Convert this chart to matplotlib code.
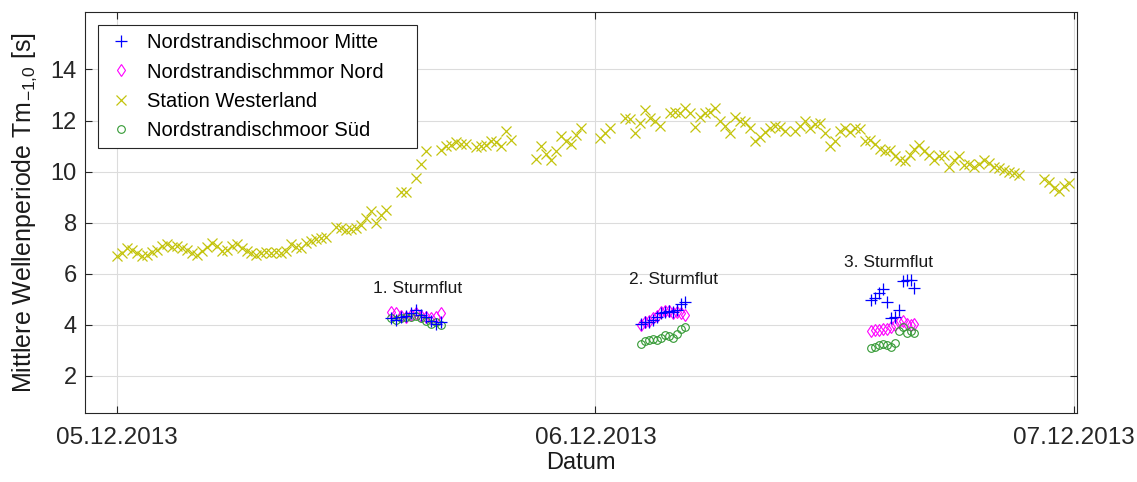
import numpy as np
import matplotlib
matplotlib.use("Agg")
import matplotlib.pyplot as plt
from matplotlib.patches import Rectangle
from matplotlib.transforms import IdentityTransform

plt.rcParams['font.family'] = ['Liberation Sans', 'DejaVu Sans']

# ---- data (x in hours since 05.12.2013 00:00) ----
west_hours = [0.0, 0.25, 0.5, 0.75, 1.0, 1.25, 1.5, 1.75, 2.0, 2.25, 2.5, 2.75, 3.0, 3.25, 3.5, 3.75,
              4.0, 4.25, 4.5, 4.75, 5.0, 5.25, 5.5, 5.75, 6.0, 6.25, 6.5, 6.75, 7.0, 7.25, 7.5, 7.75,
              8.0, 8.25, 8.5, 8.75, 9.0, 9.25, 9.5, 9.75, 10.0, 10.25, 10.5,
              11.0, 11.25, 11.5, 11.75, 12.0, 12.25, 12.5, 12.75, 13.0, 13.25, 13.5,
              14.25, 14.5, 15.0, 15.25, 15.5, 16.25, 16.5, 16.75, 17.0, 17.25, 17.5,
              18.0, 18.25, 18.5, 18.75, 19.0, 19.25, 19.5, 19.75,
              21.0, 21.25, 21.5, 21.75, 22.0, 22.25, 22.5, 22.75, 23.0, 23.25,
              24.25, 24.5, 24.75, 25.5, 25.75, 26.0, 26.25, 26.5, 26.75, 27.0, 27.25,
              27.75, 28.0, 28.25, 28.5, 28.75, 29.0, 29.25, 29.5, 29.75, 30.0, 30.25, 30.5,
              30.75, 31.0, 31.25, 31.5, 31.75, 32.0, 32.25, 32.5, 32.75, 33.0, 33.25, 33.5,
              34.0, 34.25, 34.5, 34.75, 35.0, 35.25, 35.5, 35.75, 36.0, 36.25, 36.5, 36.75,
              37.0, 37.25, 37.5, 37.75, 38.0, 38.25, 38.5, 38.75, 39.0, 39.25, 39.5, 39.75,
              40.0, 40.25, 40.5, 40.75, 41.0, 41.25, 41.5, 41.75, 42.0, 42.25, 42.5, 42.75,
              43.0, 43.25, 43.5, 43.75, 44.0, 44.25, 44.5, 44.75, 45.0, 45.25,
              46.5, 46.75, 47.0, 47.25, 47.5, 47.75]
west_values = [6.7, 6.8, 7.0, 6.95, 6.8, 6.7, 6.75, 6.85, 6.95, 7.1, 7.15, 7.05, 7.1, 7.0, 6.95, 6.8,
               6.75, 6.9, 7.05, 7.2, 7.1, 6.9, 6.95, 7.1, 7.15, 7.0, 6.9, 6.8, 6.75, 6.8, 6.85, 6.8,
               6.85, 6.8, 6.9, 7.15, 7.05, 7.0, 7.2, 7.3, 7.35, 7.4, 7.45,
               7.85, 7.8, 7.7, 7.75, 7.8, 7.9, 8.2, 8.45, 8.0, 8.3, 8.5,
               9.2, 9.2, 9.75, 10.3, 10.8, 10.85, 11.0, 11.05, 11.15, 11.1, 11.1,
               10.95, 11.0, 11.05, 11.2, 11.15, 11.0, 11.6, 11.25,
               10.5, 11.0, 10.7, 10.45, 10.8, 11.4, 11.2, 11.1, 11.45, 11.7,
               11.3, 11.5, 11.7, 12.1, 12.05, 11.5, 11.9, 12.4, 12.1, 12.0, 11.8,
               12.3, 12.35, 12.3, 12.5, 12.3, 11.75, 12.15, 12.3, 12.35, 12.5, 12.0, 11.8,
               11.5, 12.15, 12.0, 11.95, 11.7, 11.2, 11.35, 11.55, 11.7, 11.8, 11.75, 11.6,
               11.6, 11.8, 12.0, 11.7, 11.85, 11.9, 11.5, 11.0, 11.2, 11.6, 11.7, 11.55,
               11.7, 11.65, 11.2, 11.25, 11.1, 10.9, 10.8, 10.85, 10.6, 10.45, 10.4, 10.65,
               10.9, 11.05, 10.8, 10.65, 10.45, 10.6, 10.65, 10.2, 10.45, 10.6, 10.25, 10.3,
               10.2, 10.3, 10.45, 10.35, 10.2, 10.15, 10.05, 10.0, 9.95, 9.86,
               9.7, 9.6, 9.35, 9.25, 9.45, 9.55]

storm1_hours = [13.75, 14.0, 14.25, 14.5, 14.75, 15.0, 15.25, 15.5, 15.75, 16.0, 16.25]
storm1_mitte = [4.25, 4.2, 4.3, 4.35, 4.45, 4.6, 4.4, 4.3, 4.15, 4.05, 4.1]
storm1_nord = [4.5, 4.45, 4.35, 4.3, 4.4, 4.45, 4.35, 4.3, 4.25, 4.3, 4.45]
storm1_sued = [4.25, 4.2, 4.25, 4.3, 4.3, 4.35, 4.25, 4.15, 4.05, 4.1, 4.0]

storm2_hours = [26.3, 26.5, 26.7, 26.9, 27.1, 27.3, 27.5, 27.7, 27.9, 28.1, 28.3, 28.5]
storm2_mitte = [4.05, 4.1, 4.12, 4.2, 4.3, 4.45, 4.5, 4.55, 4.5, 4.6, 4.8, 4.9]
storm2_nord = [4.0, 4.1, 4.15, 4.25, 4.35, 4.5, 4.55, 4.55, 4.45, 4.5, 4.45, 4.4]
storm2_sued = [3.25, 3.35, 3.4, 3.45, 3.4, 3.5, 3.6, 3.55, 3.5, 3.65, 3.85, 3.9]

storm3_hours = [37.8, 38.0, 38.2, 38.4, 38.6, 38.8, 39.0, 39.2, 39.4, 39.6, 39.8, 40.0]
storm3_mitte = [4.97, 5.05, 5.25, 5.4, 4.9, 4.25, 4.3, 4.6, 5.7, 5.75, 5.75, 5.45]
storm3_nord = [3.75, 3.8, 3.8, 3.85, 3.85, 3.9, 4.0, 4.1, 4.15, 4.05, 4.0, 4.05]
storm3_sued = [3.1, 3.12, 3.2, 3.25, 3.2, 3.15, 3.3, 3.75, 3.9, 3.7, 3.75, 3.7]

storm_labels = ["1. Sturmflut", "2. Sturmflut", "3. Sturmflut"]
storm_label_x = [15.1, 27.9, 38.7]
storm_label_y = [5.15, 5.5, 6.15]

tick_hours = [0, 24, 48]
tick_labels = ["05.12.2013", "06.12.2013", "07.12.2013"]

# ---- figure ----
fig = plt.figure(figsize=(11.37, 4.82), dpi=100)
ax = fig.add_axes([85 / 1137, 1 - 413 / 482, (1077 - 85) / 1137, (413 - 12) / 482])

c_mitte = (0, 0, 1)
c_nord = (1, 0, 1)
c_west = (0.77, 0.77, 0.05)
c_sued = (0.2, 0.6, 0.2)

mitte_h = storm1_hours + storm2_hours + storm3_hours
mitte_v = storm1_mitte + storm2_mitte + storm3_mitte
nord_v = storm1_nord + storm2_nord + storm3_nord
sued_v = storm1_sued + storm2_sued + storm3_sued

ax.plot(mitte_h, mitte_v, linestyle='none', marker='+', color=c_mitte, markersize=8,
        markeredgewidth=0.9, label='Nordstrandischmoor Mitte', zorder=4)
ax.plot(mitte_h, nord_v, linestyle='none', marker='d', color=c_nord, markerfacecolor='none',
        markersize=6, markeredgewidth=0.8, label='Nordstrandischmmor Nord', zorder=3)
ax.plot(west_hours, west_values, linestyle='none', marker='x', color=c_west, markersize=6.5,
        markeredgewidth=0.9, label='Station Westerland', zorder=2)
ax.plot(mitte_h, sued_v, linestyle='none', marker='o', color=c_sued, markerfacecolor='none',
        markersize=5.5, markeredgewidth=0.8, label='Nordstrandischmoor Süd', zorder=3)

for t, x, y in zip(storm_labels, storm_label_x, storm_label_y):
    ax.text(x, y, t, ha='center', va='bottom', fontsize=12.5, color='#1a1a1a')

ax.set_xlim(-1.6, 48.15)
ax.set_ylim(0.55, 16.25)
ax.set_xticks(tick_hours)
ax.set_xticklabels(tick_labels)
ax.set_yticks([2, 4, 6, 8, 10, 12, 14])

ax.grid(True, color='#dcdcdc', linewidth=0.8)
ax.set_axisbelow(True)
ax.tick_params(axis='both', direction='in', labelsize=17, colors='#262626',
               top=True, right=True, length=5, width=0.8)
ax.tick_params(axis='x', pad=10, labelsize=17.5)
ax.tick_params(axis='y', pad=6)
for s in ax.spines.values():
    s.set_color('#262626')
    s.set_linewidth(0.8)

ax.set_xlabel('Datum', fontsize=17, color='#1a1a1a', labelpad=2)
ax.set_ylabel(r'Mittlere Wellenperiode Tm$_{\mathregular{-1{,}0}}$ [s]', fontsize=18,
              color='#1a1a1a', labelpad=8)

leg = ax.legend(loc='upper left', bbox_to_anchor=(13 / 992, 1 - 13 / 401), fontsize=14.5,
                frameon=True, fancybox=False, handlelength=1.4, handletextpad=0.6,
                borderpad=0.42, labelspacing=0.5, borderaxespad=0)
leg.get_frame().set_visible(False)

# wider legend frame (extra right padding as in the reference)
fig.canvas.draw()
bb = leg.get_window_extent(fig.canvas.get_renderer())
frame = Rectangle((bb.x0, bb.y0), bb.width + 25, bb.height, transform=IdentityTransform(),
                  facecolor='white', edgecolor='#262626', linewidth=0.8, zorder=4.9,
                  clip_on=False)
ax.add_artist(frame)
leg.set_zorder(5)

fig.savefig('out.png', dpi=100)
